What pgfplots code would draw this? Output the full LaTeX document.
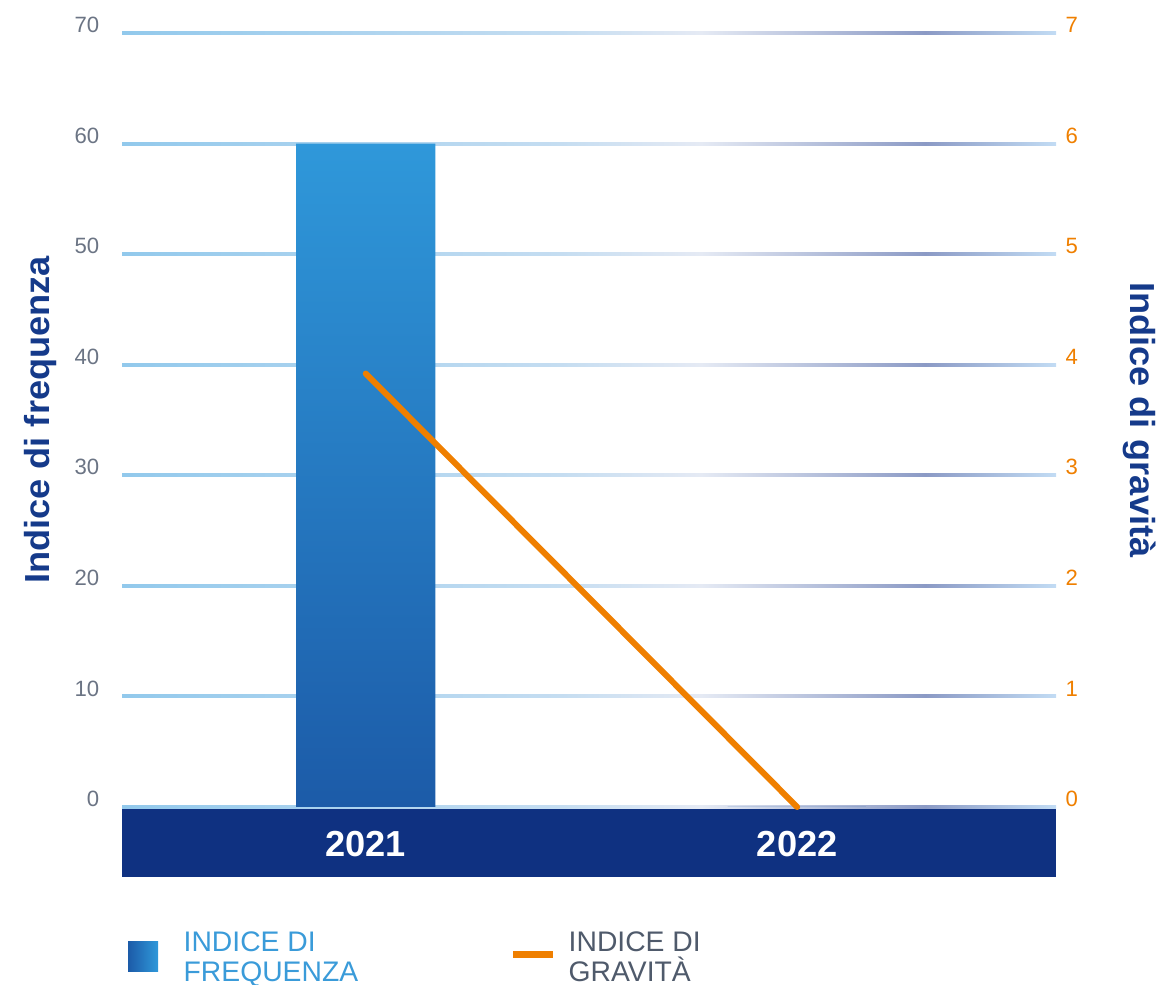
\documentclass[border=0pt]{standalone}
\usepackage{fontspec}
\setmainfont{Liberation Sans}
\newfontfamily\titlefont[FakeStretch=1.04]{Liberation Sans}
\usepackage{pgfplots}
\pgfplotsset{compat=1.18}

\definecolor{bandnavy}{HTML}{0F3181}
\definecolor{bartop}{HTML}{2F98DA}
\definecolor{barbot}{HTML}{1C5BA8}
\definecolor{orng}{HTML}{EF7F00}
\definecolor{tickgray}{HTML}{6B7484}
\definecolor{titlenavy}{HTML}{153A8A}
\definecolor{legblue}{HTML}{3A9BD9}
\definecolor{leggray}{HTML}{4F5A6B}
\definecolor{gA}{HTML}{92C9EC}
\definecolor{gB}{HTML}{C5DDF1}
\definecolor{gC}{HTML}{E5EAF4}
\definecolor{gD}{HTML}{8B9AC5}
\definecolor{gE}{HTML}{C2DCF4}
% grid line colour runs light blue -> pale -> greyish blue -> light blue
\pgfdeclarehorizontalshading{gridshade}{100bp}{color(0bp)=(gA); color(25bp)=(gA);
  color(48.5bp)=(gB); color(56bp)=(gC); color(68bp)=(gD); color(75bp)=(gE); color(100bp)=(gE)}

\begin{document}
\begin{tikzpicture}
% left axis: bars, band, grid
\begin{axis}[
  name=main,
  scale only axis, width=93.4mm, height=77.4mm,
  xmin=-0.565, xmax=1.6, ymin=0, ymax=70,
  clip=false,
  axis x line=none, xtick=\empty,
  axis y line*=left,
  y axis line style={draw=none},
  ytick={0,10,20,30,40,50,60,70},
  ytick style={draw=none},
  /pgf/number format/assume math mode=true,
  yticklabel style={font=\fontsize{6.3}{7}\selectfont, color=tickgray, anchor=east,
    inner sep=0pt, xshift=-2.2mm, yshift=0.8mm},
  ylabel={\titlefont\bfseries Indice di frequenza},
  every axis y label/.style={at={(rel axis cs:0,0.5)}, xshift=-8.1mm, rotate=90,
    anchor=center, font=\fontsize{9.9}{11}\selectfont, color=titlenavy},
]
\fill[bandnavy] (rel axis cs:0,0) rectangle ([yshift=-7mm]rel axis cs:1,0);
\pgfplotsinvokeforeach{0,10,20,30,40,50,60,70}{
  \fill[shading=gridshade] ([yshift=-0.15mm]axis cs:-0.565,#1) rectangle ([yshift=0.15mm]axis cs:1.6,#1);
}
\addplot[ybar, bar width=13.9mm, draw=none, top color=bartop, bottom color=barbot]
  coordinates {(0,60) (1,0)};
\end{axis}

% right axis: line, years, legend
\begin{axis}[
  scale only axis, width=93.4mm, height=77.4mm,
  xmin=-0.565, xmax=1.6, ymin=0, ymax=7,
  clip=false,
  axis x line*=bottom, axis y line*=right,
  axis line style={draw=none},
  xtick={0,1}, xticklabels={2021,2022},
  xtick style={draw=none}, ytick style={draw=none},
  xticklabel style={anchor=center, yshift=-3.7mm, white, font=\bfseries\fontsize{10.3}{12}\selectfont},
  ytick={0,1,2,3,4,5,6,7},
  /pgf/number format/assume math mode=true,
  yticklabel style={font=\fontsize{6.3}{7}\selectfont, color=orng, anchor=west,
    inner sep=0pt, xshift=0.9mm, yshift=0.8mm},
  ylabel={\titlefont\bfseries Indice di gravità},
  every axis y label/.style={at={(rel axis cs:1,0.5)}, xshift=8.4mm, rotate=-90,
    anchor=center, font=\fontsize{9.9}{11}\selectfont, color=titlenavy},
]
\addplot[orng, line width=0.6mm, line cap=round] coordinates {(0,3.92) (1,0)};

% legend
\fill[left color=barbot, right color=bartop] ([xshift=0.6mm,yshift=-13.5mm]rel axis cs:0,0)
  rectangle ([xshift=3.6mm,yshift=-16.5mm]rel axis cs:0,0);
\node[anchor=base west, inner sep=0pt, color=legblue, font=\fontsize{8.05}{9}\selectfont]
  at ([xshift=6.1mm,yshift=-14.5mm]rel axis cs:0,0) {INDICE DI};
\node[anchor=base west, inner sep=0pt, color=legblue, font=\fontsize{8.05}{9}\selectfont]
  at ([xshift=6.1mm,yshift=-17.5mm]rel axis cs:0,0) {FREQUENZA};
\draw[orng, line width=0.7mm] ([xshift=39.1mm,yshift=-14.8mm]rel axis cs:0,0)
  -- ([xshift=43.1mm,yshift=-14.8mm]rel axis cs:0,0);
\node[anchor=base west, inner sep=0pt, color=leggray, font=\fontsize{8.05}{9}\selectfont]
  at ([xshift=44.6mm,yshift=-14.5mm]rel axis cs:0,0) {INDICE DI};
\node[anchor=base west, inner sep=0pt, color=leggray, font=\fontsize{8.05}{9}\selectfont]
  at ([xshift=44.6mm,yshift=-17.5mm]rel axis cs:0,0) {GRAVITÀ};
\end{axis}
\pgfresetboundingbox
\path ([xshift=-12.2mm,yshift=-17.8mm]main.south west) rectangle ([xshift=103.9mm,yshift=80.7mm]main.south west);
\end{tikzpicture}
\end{document}
